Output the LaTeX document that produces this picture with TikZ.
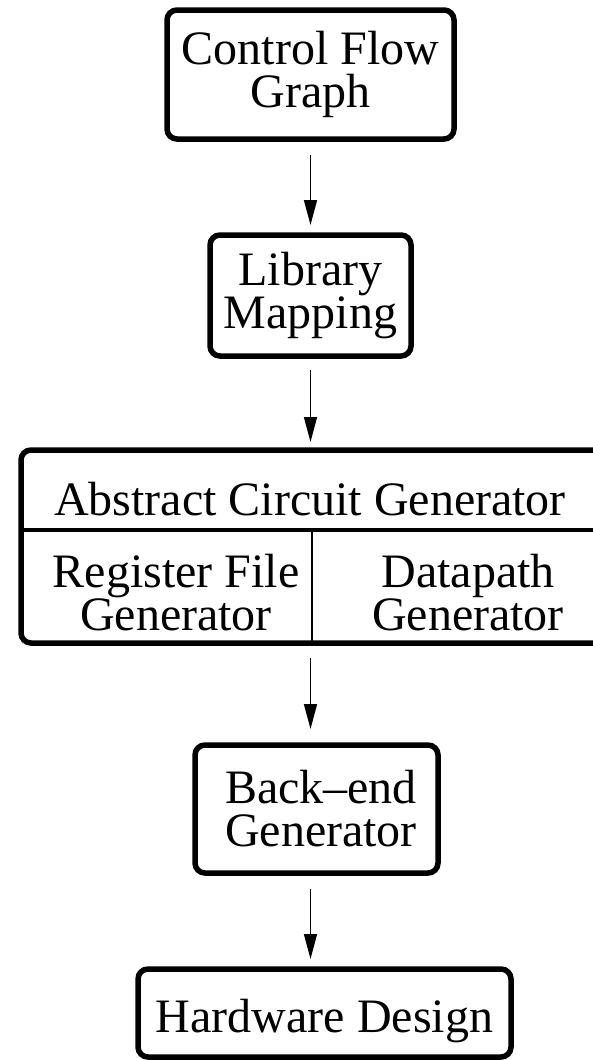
\documentclass[tikz,border=0pt]{standalone}
\usepackage{fontspec}
\setmainfont{Liberation Serif}
\usetikzlibrary{arrows.meta}

\tikzset{
  block/.style={draw, line width=5.5pt, rounded corners=10pt, outer sep=0pt,
    inner sep=0pt, align=center, font=\fontsize{48}{43}\selectfont},
  label text/.style={inner sep=0pt, align=center, font=\fontsize{48}{43}\selectfont},
  flow/.style={line width=1.5pt, -{Triangle[length=25pt,width=13pt]}},
  hdivider/.style={line width=3.5pt},
  vdivider/.style={line width=2.5pt}
}

\begin{document}
\begin{tikzpicture}[x=1pt, y=-1pt]
\useasboundingbox (0,0) rectangle (593,1060);
\begin{scope}
\clip (0,0) rectangle (593,1060);

% pipeline stages
\node[block, minimum width=287pt, minimum height=129pt] (cfg) at (310.5,74.5)
  {Control Flow\\Graph};
\node[block, minimum width=201pt, minimum height=121pt] (lib) at (310.5,295.5)
  {Library\\Mapping};

% abstract circuit generator with its two sub-generators
\node[block, minimum width=603pt, minimum height=193pt] (acg) at (322.5,546.5) {};
\coordinate (split) at (312,530);
\draw[hdivider] (acg.west |- split) -- (acg.east |- split);
\draw[vdivider] (split) -- (split |- acg.south);
\node[label text, anchor=base] (acgtitle) at (310,515) {Abstract Circuit Generator};
% the base anchor of a two-line node sits on its last line
\node[label text, anchor=base] (regfile) at (176,630) {Register File\\Generator};
\node[label text, anchor=base] (datapath) at (468,630) {Datapath\\Generator};

\node[block, minimum width=243pt, minimum height=128pt] (be) at (316.5,809)
  {\hspace*{9pt}Back--end\\\hspace*{9pt}Generator};
\node[block, minimum width=373pt, minimum height=88pt, text height=38pt, text depth=0pt]
  (hw) at (324.5,1013) {Hardware Design};

% flow arrows
\draw[flow, shorten <=16pt, shorten >=10pt] (cfg.south -| lib.south) -- (lib.north);
\draw[flow, shorten <=14pt, shorten >=8pt] (lib.south) -- (acg.north -| lib.south);
\draw[flow, shorten <=15pt, shorten >=16pt] (acg.south -| lib.south) -- (be.north -| lib.south);
\draw[flow, shorten <=16pt, shorten >=10pt] (be.south -| lib.south) -- (hw.north -| lib.south);
\end{scope}
\end{tikzpicture}
\end{document}
